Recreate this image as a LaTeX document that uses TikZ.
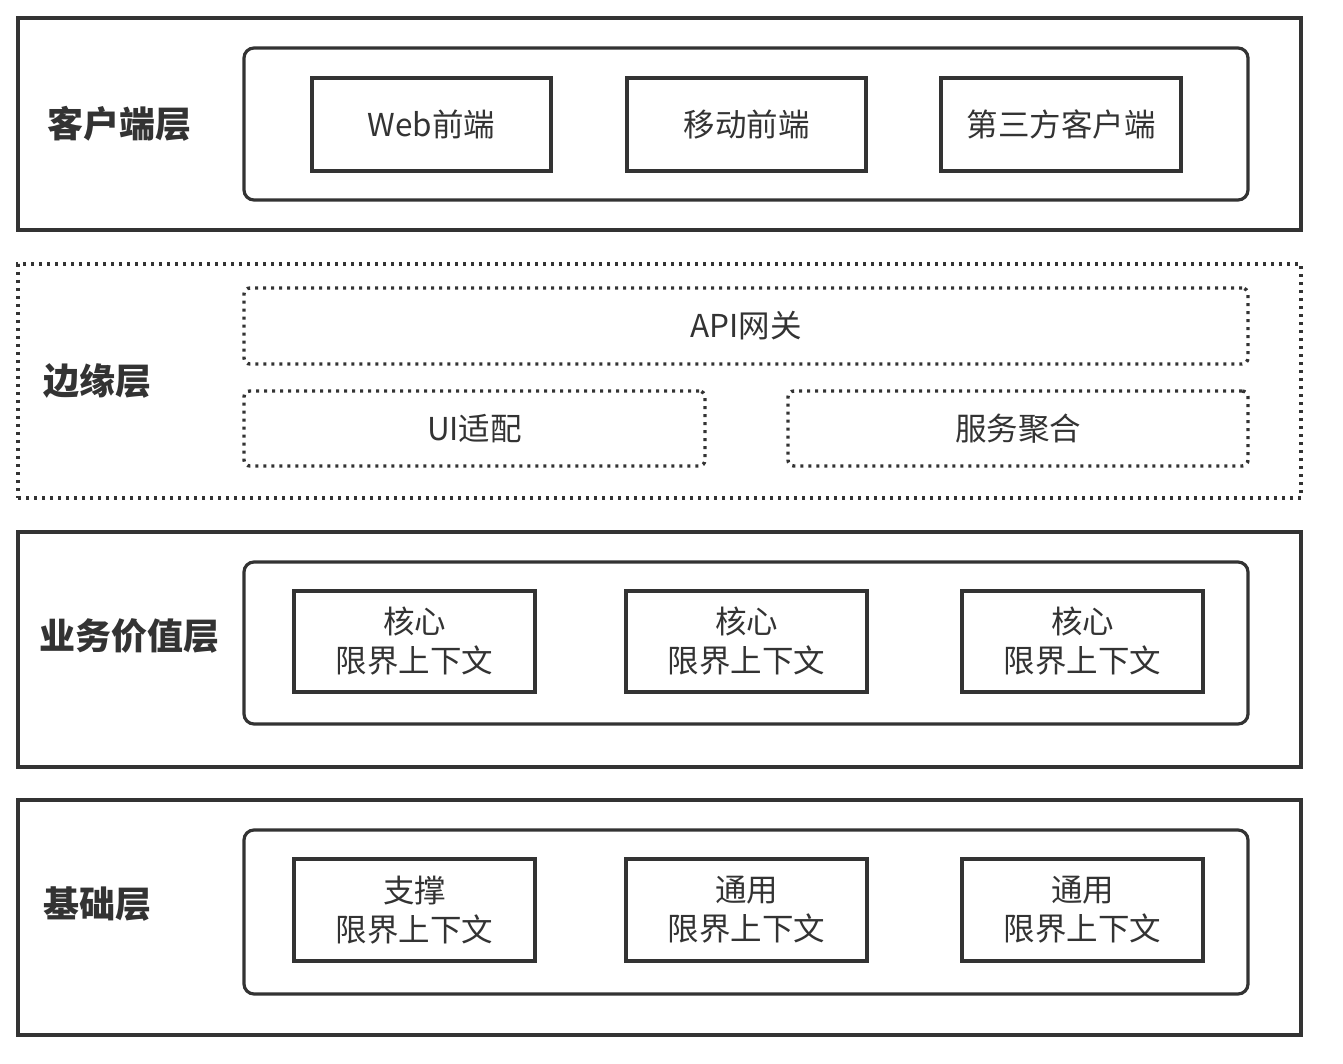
\documentclass[tikz,border=0pt]{standalone}
\usepackage{fontspec}
\setmainfont{Noto Sans CJK SC}
\definecolor{ink}{HTML}{333333}
\begin{document}
\begin{tikzpicture}[x=1pt,y=-1pt,
  layer/.style={draw=ink, line width=3.2pt, inner sep=0pt, minimum width=1283pt},
  inner/.style={draw=ink, line width=3.2pt, rounded corners=10pt, inner sep=0pt, minimum width=1004pt},
  box/.style={draw=ink, line width=3.2pt, inner sep=0pt, text=ink, font=\fontsize{31.5}{39}\selectfont, align=center},
  dotbox/.style={draw=ink, line width=3.4pt, dash pattern=on 3pt off 5pt, inner sep=0pt, text=ink, font=\fontsize{31.5}{39}\selectfont},
  lbl/.style={anchor=west, text=ink, inner sep=0pt, font=\fontsize{36}{40}\selectfont\bfseries}]
\path[use as bounding box, fill=white] (0,0) rectangle (1343,1064);

% Layer 1
\node[layer, minimum height=212pt] (L1) at (659.5,124) {};
\node[inner, minimum height=152pt] (I1) at (746,124) {};
\node[box, minimum width=239pt, minimum height=93pt] (web) at (431.5,124.5) {Web前端};
\node[box, minimum width=239pt, minimum height=93pt] (mob) at (746.5,124.5) {移动前端};
\node[box, minimum width=240pt, minimum height=93pt] (third) at (1061,124.5) {第三方客户端};
\node[lbl] (t1) at (47,124) {客户端层};

% Layer 2
\node[dotbox, minimum width=1283pt, minimum height=234pt] (L2) at (659.5,381) {};
\node[dotbox, rounded corners=6pt, minimum width=1004pt, minimum height=76pt] (api) at (746,326) {API网关};
\node[dotbox, rounded corners=6pt, minimum width=461pt, minimum height=75pt] (ui) at (474.5,428.5) {UI适配};
\node[dotbox, rounded corners=6pt, minimum width=460pt, minimum height=75pt] (agg) at (1018,428.5) {服务聚合};
\node[lbl] (t2) at (43,381) {边缘层};

% Layer 3
\node[layer, minimum height=235pt] (L3) at (659.5,649.5) {};
\node[inner, minimum height=162pt] (I3) at (746,643) {};
\node[box, minimum width=241pt, minimum height=101pt] (c1) at (414.5,641.5) {核心\\限界上下文};
\node[box, minimum width=241pt, minimum height=101pt] (c2) at (746.5,641.5) {核心\\限界上下文};
\node[box, minimum width=241pt, minimum height=101pt] (c3) at (1082.5,641.5) {核心\\限界上下文};
\node[lbl] (t3) at (39,636) {业务价值层};

% Layer 4
\node[layer, minimum height=235pt] (L4) at (659.5,917.5) {};
\node[inner, minimum height=164pt] (I4) at (746,912) {};
\node[box, minimum width=241pt, minimum height=102pt] (s1) at (414.5,910) {支撑\\限界上下文};
\node[box, minimum width=241pt, minimum height=102pt] (g1) at (746.5,910) {通用\\限界上下文};
\node[box, minimum width=241pt, minimum height=102pt] (g2) at (1082.5,910) {通用\\限界上下文};
\node[lbl] (t4) at (43,904) {基础层};
\end{tikzpicture}
\end{document}
